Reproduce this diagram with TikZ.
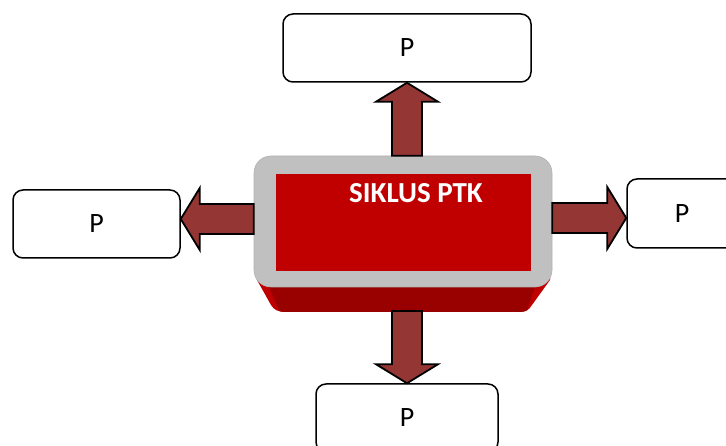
\documentclass[tikz,border=0pt]{standalone}
\usepackage{fontspec}
\setmainfont{Carlito}
\usetikzlibrary{calc}

\definecolor{arrowred}{HTML}{943634}
\definecolor{corered}{HTML}{C00000}
\definecolor{basered}{HTML}{990000}
\definecolor{rimgray}{HTML}{C0C0C0}

% block arrow from #1 to #2 (tip at #2)
\newcommand{\blockarrow}[2]{%
  \draw[barrow] let \p1=(#1), \p2=(#2),
      \n1={atan2(\y2-\y1,\x2-\x1)}, \n2={veclen(\x2-\x1,\y2-\y1)} in
    [shift={(\p1)}, rotate=\n1]
    (0pt,-15pt) -- (\n2-19pt,-15pt) -- (\n2-19pt,-31pt) -- (\n2,0pt)
    -- (\n2-19pt,31pt) -- (\n2-19pt,15pt) -- (0pt,15pt) -- cycle;}

% outline of the bevelled base under the grey rim
\newcommand{\basepath}{(255,250) -- (257,280) -- (271,305)
    .. controls (274,310) and (278,312) .. (287,312) -- (519,312)
    .. controls (526,312) and (529,310) .. (532,305) -- (550,280) -- (552,250) -- cycle}

\begin{document}
\begin{tikzpicture}[x=1pt,y=-1pt,
  pbox/.style={draw=black, line width=1.5pt, fill=white, rounded corners=10pt,
    inner sep=0pt, font=\fontsize{28}{32}\selectfont},
  barrow/.style={fill=arrowred, draw=black, line width=1.8pt, line join=miter}]
\useasboundingbox (0,0) rectangle (726,446);
\clip (0,0) rectangle (726,446);

% red bevelled base below the grey rim
\fill[corered] \basepath;
\begin{scope}
  \clip \basepath;
  \fill[basered] (266,250) -- (268,284) -- (280,313) -- (526,313)
    -- (536,284) -- (540,250) -- cycle;
\end{scope}
\coordinate (base) at (405,311);

% grey rim and red face
\node[fill=rimgray, draw=black!30, line width=0.6pt, rounded corners=17pt,
  minimum width=298pt, minimum height=131pt, inner sep=0pt] (ctr) at (403,221.5) {};
\node[fill=corered, minimum width=255pt, minimum height=97pt, inner sep=0pt]
  (core) at (403.5,222.5) {};
\node[text=white, font=\bfseries\fontsize{29}{32}\selectfont, inner sep=0pt]
  (title) at (416,193) {SIKLUS PTK};

% outer boxes
\node[pbox, minimum width=248pt, minimum height=68pt] (top) at (407,48) {P};
\node[pbox, minimum width=167pt, minimum height=68pt] (left) at (96.5,224) {P};
\node[pbox, minimum width=110pt, minimum height=69pt] (right) at (682,213.5) {P};
\node[pbox, minimum width=182pt, minimum height=68pt] (bottom) at (407,418) {P};

% arrows
\coordinate (upsrc) at (top.south |- ctr.north);
\blockarrow{upsrc}{top.south}
\coordinate (lsrc) at ($(ctr.west)+(0,-2.5)$);
\coordinate (ltip) at (left.east |- lsrc);
\blockarrow{lsrc}{ltip}
\coordinate (rsrc) at ($(ctr.east)+(0,-3.5)$);
\coordinate (rtip) at (right.west |- rsrc);
\blockarrow{rsrc}{rtip}
\coordinate (dsrc) at (bottom.north |- base);
\blockarrow{dsrc}{bottom.north}
\end{tikzpicture}
\end{document}
